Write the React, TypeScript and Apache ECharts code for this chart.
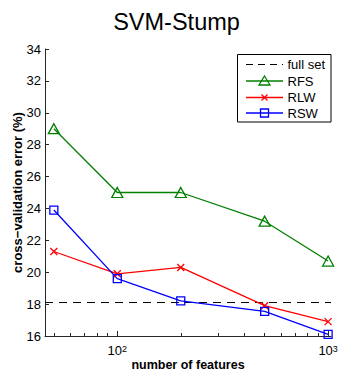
import React, { useEffect, useRef } from "react";
import * as echarts from "echarts";

const features = [50, 100, 200, 500, 1000];
const rfs = [29.0, 25.0, 25.0, 23.2, 20.7];
const rlw = [21.3, 19.9, 20.3, 17.9, 16.9];
const rsw = [23.9, 19.6, 18.2, 17.55, 16.1];
const fullSet = 18.1;
const yTicksMin = 16;
const yTicksMax = 34;
const xMajor = [100, 1000];
const xMinor = [50, 60, 70, 80, 90, 200, 300, 400, 500, 600, 700, 800, 900];
const xMinF = 45.4;
const xMaxF = 1032;

const FONT = "Liberation Sans, Arial, Helvetica, sans-serif";
const GREEN = "#007f00";
const RED = "#ff0000";
const BLUE = "#0000ff";
const AX = "#262626";

const lg = (v: number) => Math.log10(v);

export default function App() {
  const ref = useRef<HTMLDivElement>(null);
  useEffect(() => {
    if (!ref.current) return;
    const chart = echarts.init(ref.current, null, { renderer: "svg" });
    const LMIN = lg(xMinF);
    const LMAX = lg(xMaxF);
    const triPath = "path://M5,0L10,9L0,9Z";
    const crossPath = "path://M0,0L10,10M10,0L0,10";
    const sqPath = "path://M0,0L10,0L10,10L0,10Z";

    const lx0 = 246, lx1 = 283, lmx = 264.5, ltx = 287.5;
    const ly = [64.5, 81, 97.5, 113];

    const option: any = {
      animation: false,
      title: {
        text: "SVM-Stump",
        left: 171.5,
        textAlign: "center",
        top: 5,
        textStyle: { fontFamily: FONT, fontSize: 23.5, fontWeight: "normal", color: "#000" },
      },
      grid: { left: 45, top: 49, width: 286, height: 287, containLabel: false, outerBoundsMode: "none" },
      xAxis: [
        {
          type: "value",
          min: LMIN,
          max: LMAX,
          position: "bottom",
          name: "number of features",
          nameLocation: "middle",
          nameGap: 22,
          nameMoveOverlap: false,
          nameTextStyle: { fontFamily: FONT, fontSize: 12.5, lineHeight: 13, fontWeight: "bold", color: "#000" },
          axisLine: { show: true, lineStyle: { color: AX, width: 1 } },
          axisTick: { show: true, inside: true, length: 5, customValues: xMajor.map(lg), lineStyle: { color: AX } },
          axisLabel: {
            customValues: xMajor.map(lg),
            margin: 8,
            formatter: (v: number) => "{b|10}{s|" + Math.round(v) + "}",
            rich: {
              b: { fontFamily: FONT, fontSize: 13, color: "#000" },
              s: { fontFamily: FONT, fontSize: 9, color: "#000", verticalAlign: "top" },
            },
          },
          splitLine: { show: false },
        },
        {
          type: "value",
          min: LMIN,
          max: LMAX,
          position: "bottom",
          axisLine: { show: false },
          axisTick: { show: true, inside: true, length: 3, customValues: xMinor.map(lg), lineStyle: { color: AX } },
          axisLabel: { show: false },
          splitLine: { show: false },
        },
      ],
      yAxis: {
        type: "value",
        min: yTicksMin,
        max: yTicksMax,
        interval: 2,
        name: "cross\u2212validation error (%)",
        nameLocation: "middle",
        nameGap: 21,
        nameMoveOverlap: false,
        nameTextStyle: { fontFamily: FONT, fontSize: 13, fontWeight: "bold", color: "#000" },
        axisLine: { show: true, lineStyle: { color: AX, width: 1 } },
        axisTick: { show: true, inside: true, length: 4, lineStyle: { color: AX } },
        axisLabel: { margin: 4, fontFamily: FONT, fontSize: 13, color: "#000" },
        splitLine: { show: false },
      },
      series: [
        {
          type: "line",
          name: "full set",
          data: [[LMIN, fullSet], [LMAX, fullSet]],
          symbol: "none",
          lineStyle: { color: "#000", width: 1, type: [8, 6] },
          z: 1,
        },
        {
          type: "line",
          name: "RFS",
          data: features.map((f, i) => [lg(f), rfs[i]]),
          symbol: triPath,
          symbolSize: [11, 10],
          lineStyle: { color: GREEN, width: 1.3 },
          itemStyle: { color: "none", borderColor: GREEN, borderWidth: 1.3 },
          z: 3,
        },
        {
          type: "line",
          name: "RLW",
          data: features.map((f, i) => [lg(f), rlw[i]]),
          symbol: crossPath,
          symbolSize: 7,
          lineStyle: { color: RED, width: 1.3 },
          itemStyle: { color: "none", borderColor: RED, borderWidth: 1.3 },
          z: 3,
        },
        {
          type: "line",
          name: "RSW",
          data: features.map((f, i) => [lg(f), rsw[i]]),
          symbol: sqPath,
          symbolSize: 8,
          lineStyle: { color: BLUE, width: 1.3 },
          itemStyle: { color: "none", borderColor: BLUE, borderWidth: 1.3 },
          z: 3,
        },
      ],
      graphic: [
        {
          type: "rect",
          shape: { x: 237.5, y: 54.5, width: 93.5, height: 67.5 },
          style: { fill: "#fff", stroke: "#000", lineWidth: 1 },
          z: 10,
        },
        {
          type: "line",
          shape: { x1: lx0, y1: ly[0], x2: lx1, y2: ly[0] },
          style: { stroke: "#000", lineWidth: 1, lineDash: [7, 5] },
          z: 11,
        },
        { type: "line", shape: { x1: lx0, y1: ly[1], x2: lx1, y2: ly[1] }, style: { stroke: GREEN, lineWidth: 1.3 }, z: 11 },
        {
          type: "polygon",
          shape: { points: [[lmx, ly[1] - 5], [lmx + 5.5, ly[1] + 4], [lmx - 5.5, ly[1] + 4]] },
          style: { fill: "none", stroke: GREEN, lineWidth: 1.3 },
          z: 12,
        },
        { type: "line", shape: { x1: lx0, y1: ly[2], x2: lx1, y2: ly[2] }, style: { stroke: RED, lineWidth: 1.3 }, z: 11 },
        { type: "line", shape: { x1: lmx - 3, y1: ly[2] - 3, x2: lmx + 3, y2: ly[2] + 3 }, style: { stroke: RED, lineWidth: 1.3 }, z: 12 },
        { type: "line", shape: { x1: lmx - 3, y1: ly[2] + 3, x2: lmx + 3, y2: ly[2] - 3 }, style: { stroke: RED, lineWidth: 1.3 }, z: 12 },
        { type: "line", shape: { x1: lx0, y1: ly[3], x2: lx1, y2: ly[3] }, style: { stroke: BLUE, lineWidth: 1.3 }, z: 11 },
        {
          type: "rect",
          shape: { x: lmx - 4, y: ly[3] - 4, width: 8, height: 8 },
          style: { fill: "none", stroke: BLUE, lineWidth: 1.3 },
          z: 12,
        },
        ...["full set", "RFS", "RLW", "RSW"].map((t, i) => ({
          type: "text",
          x: ltx,
          y: ly[i],
          style: { text: t, fontFamily: FONT, fontSize: 13, fill: "#000", verticalAlign: "middle" },
          z: 12,
        })),
      ],
    };
    chart.setOption(option);
    return () => chart.dispose();
  }, []);
  return <div ref={ref} style={{ width: 338, height: 373, position: "absolute", left: 0, top: 0 }} />;
}
